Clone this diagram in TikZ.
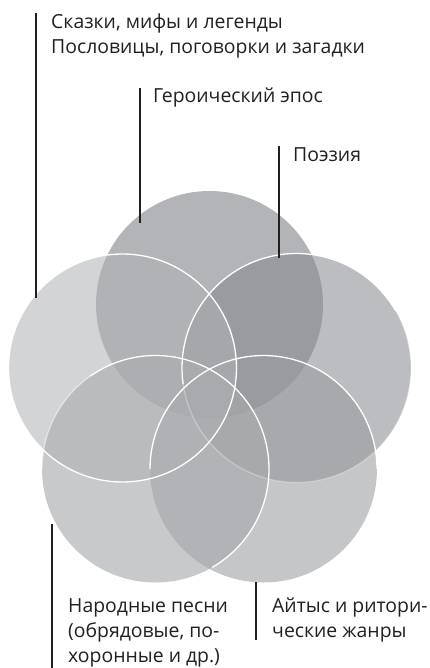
\documentclass[tikz,border=0pt]{standalone}
\usepackage{fontspec}
\setmainfont{Open Sans}
\definecolor{cT}{HTML}{B3B4B8}
\definecolor{cR}{HTML}{87898E}
\definecolor{cBR}{HTML}{9A9CA0}
\definecolor{cBL}{HTML}{A6A8AB}
\definecolor{cL}{HTML}{AFB1B4}
\definecolor{ink}{HTML}{231F20}
\tikzset{
  lbl/.style={anchor=base west, inner sep=0pt, text=ink, font=\fontsize{19.4}{25}\selectfont},
  leader/.style={draw=ink, line width=2pt},
  rim/.style={draw=white, line width=1.3pt},
  faintrim/.style={draw=white, line width=1.3pt, draw opacity=0.3}
}
\begin{document}
\begin{tikzpicture}[x=1pt,y=-1pt]
\useasboundingbox (0,0) rectangle (430,668);
% circles (fills)
\fill[cT] (209.5,304.5) circle (113.5);
\fill[cR, fill opacity=0.56] (296.5,368) circle (114.5);
\fill[cBR, fill opacity=0.577] (263.5,469) circle (113.5);
\fill[cBL, fill opacity=0.622] (155.5,469) circle (113.5);
\fill[cL, fill opacity=0.55] (122.5,368) circle (114);
% white rims
\path[rim] (122.5,368) circle (114);
\path[rim] (296.5,368) ++(172:114.5) arc[start angle=172, end angle=330, radius=114.5];
\path[faintrim] (296.5,368) ++(330:114.5) arc[start angle=330, end angle=532, radius=114.5];
\path[rim] (155.5,469) ++(235:113.5) arc[start angle=235, end angle=420, radius=113.5];
\path[rim, draw opacity=0.5] (155.5,469) ++(180:113.5) arc[start angle=180, end angle=235, radius=113.5];
\path[rim] (263.5,469) ++(180:113.5) arc[start angle=180, end angle=360, radius=113.5];
% leader lines
\coordinate (a1) at (36,13);   \coordinate (a2) at (36,298);
\coordinate (b1) at (140,88);  \coordinate (b2) at (140,223);
\coordinate (c1) at (279,146); \coordinate (c2) at (279,258);
\coordinate (d1) at (52,524);  \coordinate (d2) at (52,668);
\coordinate (e1) at (256,582); \coordinate (e2) at (256,640);
\draw[leader] (a1) -- (a2);
\draw[leader] (b1) -- (b2);
\draw[leader] (c1) -- (c2);
\draw[leader] (d1) -- (d2);
\draw[leader] (e1) -- (e2);
% labels
\node[lbl] (skazki) at (51,28.5) {Сказки, мифы и легенды};
\node[lbl] (poslov) at (51,53.5) {Пословицы, поговорки и загадки};
\node[lbl] (geroi) at (153,103) {Героический эпос};
\node[lbl] (poez) at (293,162) {Поэзия};
\node[lbl] (nar1) at (68,612) {Народные песни};
\node[lbl] (nar2) at (68,637) {(обрядовые, по-};
\node[lbl] (nar3) at (68,662) {хоронные и др.)};
\node[lbl] (ait1) at (272,612) {Айтыс и ритори-};
\node[lbl] (ait2) at (272,637) {ческие жанры};
\end{tikzpicture}
\end{document}
